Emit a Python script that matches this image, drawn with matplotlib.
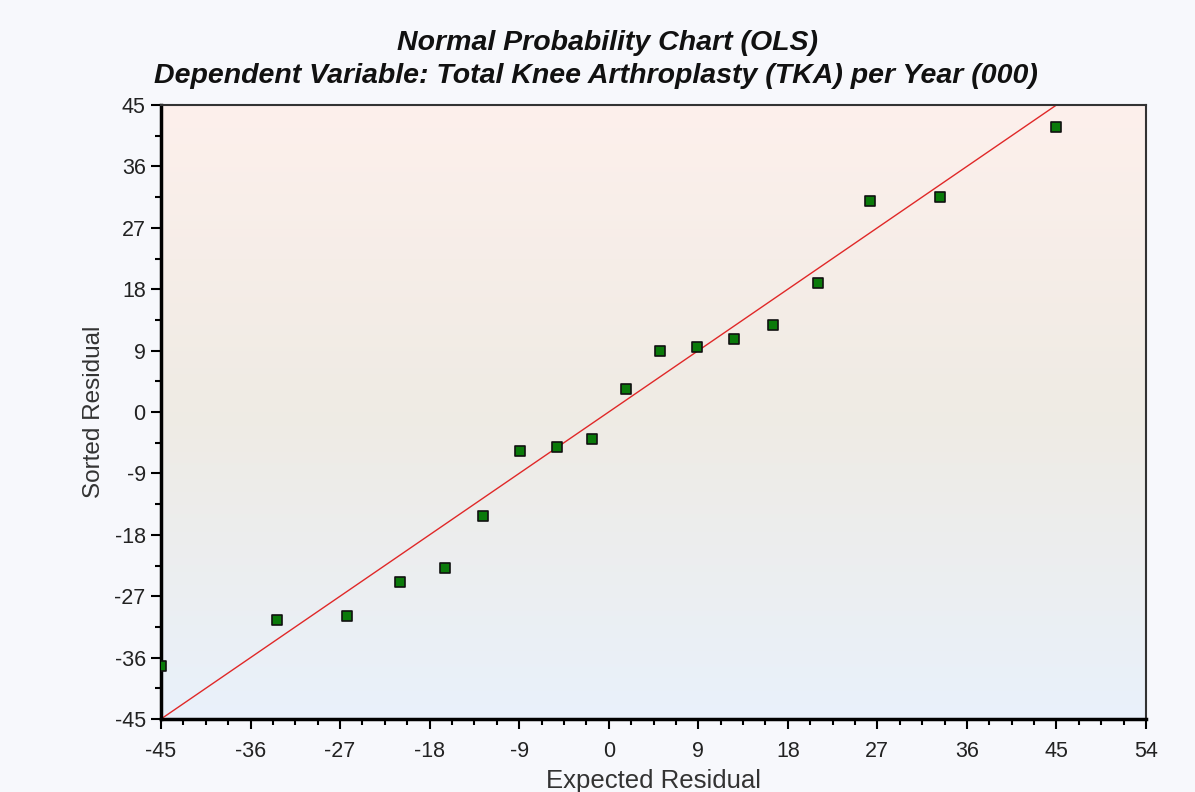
import numpy as np
import matplotlib
matplotlib.use("Agg")
import matplotlib.pyplot as plt
from matplotlib.ticker import MultipleLocator
from matplotlib.colors import LinearSegmentedColormap

# Data
expected_residual = [-45.0, -33.3, -26.3, -21.0, -16.5, -12.6, -8.9, -5.2, -1.7,
                     1.7, 5.2, 8.9, 12.6, 16.5, 21.0, 26.3, 33.3, 45.0]
sorted_residual = [-37.2, -30.5, -29.9, -24.9, -22.9, -15.2, -5.7, -5.1, -4.0,
                   3.4, 8.9, 9.5, 10.7, 12.8, 18.9, 30.9, 31.5, 41.8]
ref_line_x = [-45, 45]
ref_line_y = [-45, 45]

title1 = "Normal Probability Chart (OLS)"
title2 = "Dependent Variable: Total Knee Arthroplasty (TKA) per Year (000)"

plt.rcParams['font.family'] = ['Liberation Sans', 'DejaVu Sans']
plt.rcParams['axes.unicode_minus'] = False

fig = plt.figure(figsize=(11.95, 7.92), dpi=100, facecolor='#f7f8fc')
ax = fig.add_axes([161/1195, 1-719/792, (1146-161)/1195, (719-105)/792])

# gradient background (top pink -> middle beige -> bottom light blue)
cmap = LinearSegmentedColormap.from_list('bg', ['#fdf0ec', '#efebe4', '#e9f1fb'])
grad = np.linspace(0, 1, 256).reshape(-1, 1)
ax.imshow(grad, aspect='auto', cmap=cmap, extent=[0, 1, 0, 1],
          transform=ax.transAxes, zorder=0, origin='upper')

ax.plot(ref_line_x, ref_line_y, color='#e02828', lw=1.0, zorder=2)
ax.scatter(expected_residual, sorted_residual, marker='s', s=42,
           facecolor='#0a7a0a', edgecolor='#111111', linewidth=1.2, zorder=3)

ax.set_xlim(-45, 54)
ax.set_ylim(-45, 45)
ax.xaxis.set_major_locator(MultipleLocator(9))
ax.xaxis.set_minor_locator(MultipleLocator(2.25))
ax.yaxis.set_major_locator(MultipleLocator(9))
ax.yaxis.set_minor_locator(MultipleLocator(4.5))

for s in ['left', 'bottom']:
    ax.spines[s].set_linewidth(2.5)
    ax.spines[s].set_color('black')
for s in ['top', 'right']:
    ax.spines[s].set_linewidth(1.5)
    ax.spines[s].set_color('#333333')

ax.tick_params(which='major', direction='out', length=7, width=1.5, labelsize=15.5,
               colors='black', labelcolor='#222222')
ax.tick_params(which='minor', direction='out', length=4, width=1.5)
ax.tick_params(axis='x', which='both', top=False, pad=9)
ax.tick_params(axis='y', which='both', right=False, pad=4)

ax.set_xlabel('Expected Residual', fontsize=18.5, color='#333333', labelpad=5)
ax.set_ylabel('Sorted Residual', fontsize=17.5, color='#333333', labelpad=7)

fig.text(0.508, 1-43/792, title1, ha='center', va='center', fontsize=20.5,
         fontweight='bold', fontstyle='italic', color='#111111')
fig.text(0.499, 1-76/792, title2, ha='center', va='center', fontsize=20.5,
         fontweight='bold', fontstyle='italic', color='#111111')

fig.savefig('out.png', dpi=100, facecolor=fig.get_facecolor())
